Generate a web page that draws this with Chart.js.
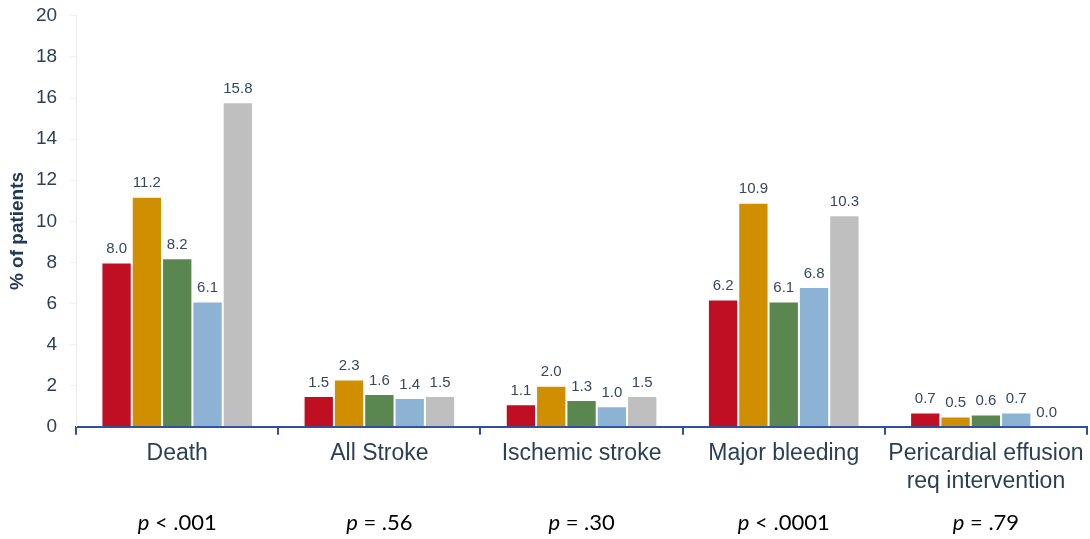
<!DOCTYPE html>
<html>
<head>
<meta charset="utf-8">
<script src="https://cdn.jsdelivr.net/npm/chart.js@4"></script>
<style>
html,body{margin:0;padding:0;background:#fff;}
#wrap{width:1090px;height:539px;position:relative;}
</style>
</head>
<body>
<div id="wrap"><canvas id="c"></canvas></div>
<script>
const categories = ["Death", "All Stroke", "Ischemic stroke", "Major bleeding", ["Pericardial effusion", "req intervention"]];
const series1 = [8.0, 1.5, 1.1, 6.2, 0.7];
const series2 = [11.2, 2.3, 2.0, 10.9, 0.5];
const series3 = [8.2, 1.6, 1.3, 6.1, 0.6];
const series4 = [6.1, 1.4, 1.0, 6.8, 0.7];
const series5 = [15.8, 1.5, 1.5, 10.3, 0.0];
const pValues = ["< .001", "= .56", "= .30", "< .0001", "= .79"];
const yTicks = [0, 2, 4, 6, 8, 10, 12, 14, 16, 18, 20];
const yTitle = "% of patients";

const colors = ["#C00F23", "#D08F00", "#5A8650", "#8DB3D4", "#BFBFBF"];
const allSeries = [series1, series2, series3, series4, series5];
const textColor = "#2B3F55";
const FAM = "'Liberation Sans', Arial, sans-serif";
const PFAM = "Lato, 'Liberation Sans', sans-serif";

const labelPlugin = {
  id: "valueLabels",
  afterDatasetsDraw(chart) {
    const ctx = chart.ctx;
    ctx.save();
    ctx.font = "15px " + FAM;
    ctx.fillStyle = "#34495E";
    ctx.textAlign = "center";
    ctx.textBaseline = "bottom";
    chart.data.datasets.forEach((ds, i) => {
      const meta = chart.getDatasetMeta(i);
      meta.data.forEach((bar, j) => {
        ctx.fillText(ds.data[j].toFixed(1), bar.x, bar.y - 6);
      });
    });
    // y title
    ctx.save();
    ctx.translate(23, 231);
    ctx.rotate(-Math.PI / 2);
    ctx.font = "bold 19px " + FAM;
    ctx.fillStyle = "#213A55";
    ctx.textAlign = "center";
    ctx.textBaseline = "alphabetic";
    ctx.fillText(yTitle, 0, 0);
    ctx.restore();
    // p-values
    const xs = chart.scales.x;
    ctx.fillStyle = "#000";
    ctx.textBaseline = "alphabetic";
    pValues.forEach((p, j) => {
      const cx = xs.getPixelForValue(j);
      const yy = 530;
      ctx.font = "italic 22px " + PFAM;
      const w1 = ctx.measureText("p").width;
      ctx.font = "22px " + PFAM;
      const rest = " " + p;
      const w2 = ctx.measureText(rest).width;
      const start = cx - (w1 + w2) / 2;
      ctx.textAlign = "left";
      ctx.font = "italic 22px " + PFAM;
      ctx.fillText("p", start, yy);
      ctx.font = "22px " + PFAM;
      ctx.fillText(rest, start + w1, yy);
    });
    ctx.restore();
  }
};

new Chart(document.getElementById("c"), {
  type: "bar",
  data: {
    labels: categories,
    datasets: allSeries.map((s, i) => ({
      data: s,
      backgroundColor: colors[i],
      borderColor: "rgba(255,255,255,0.5)",
      borderWidth: 1,
      categoryPercentage: 0.75,
      barPercentage: 1.0
    }))
  },
  options: {
    responsive: true,
    maintainAspectRatio: false,
    animation: false,
    layout: { padding: { top: 0, right: 3, bottom: 39, left: 23 } },
    plugins: { legend: { display: false }, tooltip: { enabled: false } },
    scales: {
      x: {
        grid: { display: true, drawOnChartArea: false, drawTicks: true, offset: true, color: "#2F4F9F", tickLength: 8, lineWidth: 2 },
        border: { color: "#2F4F9F", width: 2 },
        ticks: { color: textColor, font: { size: 23, family: FAM }, padding: 5, maxRotation: 0 }
      },
      y: {
        min: 0, max: 20,
        afterBuildTicks(axis) { axis.ticks = yTicks.map(v => ({ value: v })); },
        grid: { display: true, drawOnChartArea: false, drawTicks: true, tickLength: 6, color: "#F0F0F0" },
        border: { color: "#EDEDED", width: 1 },
        ticks: { color: textColor, font: { size: 19, family: FAM, lineHeight: 0.3 }, padding: 13 },
        title: { display: false }
      }
    }
  },
  plugins: [labelPlugin]
});
</script>
</body>
</html>
